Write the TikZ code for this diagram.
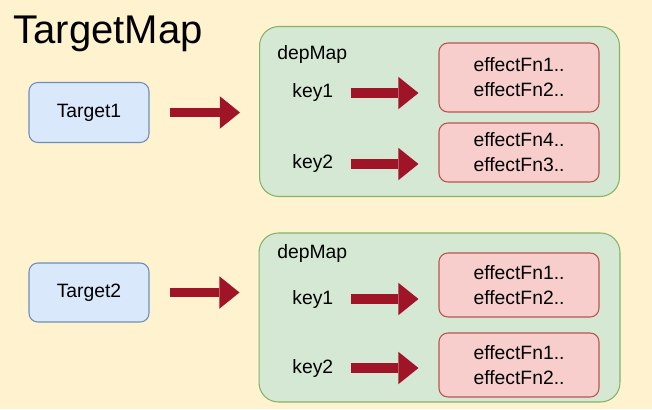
\documentclass[tikz,border=0pt]{standalone}
\usepackage{fontspec}
\setmainfont{Liberation Sans}
\usepackage{tikz}
\usetikzlibrary{arrows.meta,positioning,calc}
\definecolor{bgY}{RGB}{255,242,206}
\definecolor{tgtB}{RGB}{218,232,252}
\definecolor{tgtBd}{RGB}{108,142,191}
\definecolor{depG}{RGB}{213,232,212}
\definecolor{depGd}{RGB}{130,179,102}
\definecolor{fnR}{RGB}{248,206,204}
\definecolor{fnRd}{RGB}{184,84,80}
\definecolor{arrR}{RGB}{160,20,40}

\begin{document}
\begin{tikzpicture}[
  x=0.02cm, y=-0.02cm,
  txt/.style={font=\fontsize{11}{14.2}\selectfont},
  target/.style={draw=tgtBd, fill=tgtB, rounded corners=5pt, line width=0.6pt, txt, minimum width=2.4cm, minimum height=1.2cm},
  depbox/.style={draw=depGd, fill=depG, rounded corners=11pt, line width=0.6pt, minimum width=7.2cm, minimum height=3.4cm},
  fnbox/.style={draw=fnRd, fill=fnR, rounded corners=5pt, line width=0.6pt, txt, align=center, minimum width=3.2cm},
  keylbl/.style={txt, inner sep=0pt, anchor=west},
  flow/.style={draw=arrR, line width=5.3pt, -{Triangle[length=11.5pt,width=18.5pt,line width=0pt]}}
]

\fill[bgY] (0,0) rectangle (652,409);
\useasboundingbox (0,0) rectangle (652,409);

\node[font=\fontsize{22.8}{27}\selectfont, inner sep=0pt, anchor=base west] (title) at (13,43) {TargetMap};

% first target
\node[target] (t1) at (89,112.5) {Target1};
\node[depbox] (dm1) at (439.5,111.5) {};
\node[txt, inner sep=0pt, anchor=base west] (dl1) at (277,59) {depMap};
\node[keylbl] (k11) at (292,93) {key1};
\node[keylbl] (k12) at (292,164) {key2};
\node[fnbox, minimum height=1.38cm] (f11) at (519,77.5) {effectFn1..\\effectFn2..};
\node[fnbox, minimum height=1.18cm] (f12) at (519,152.5) {effectFn4..\\effectFn3..};

% second target
\node[target, minimum height=1.18cm] (t2) at (89,292.5) {Target2};
\node[depbox, minimum width=7.22cm, minimum height=3.38cm] (dm2) at (439.5,317.5) {};
\node[txt, inner sep=0pt, anchor=base west] (dl2) at (277,258) {depMap};
\node[keylbl] (k21) at (292,299) {key1};
\node[keylbl] (k22) at (292,368) {key2};
\node[fnbox, minimum height=1.28cm] (f21) at (519,285) {effectFn1..\\effectFn2..};
\node[fnbox, minimum height=1.28cm] (f22) at (519,365) {effectFn1..\\effectFn2..};

% arrows
\draw[flow, shorten <=0.4cm, shorten >=0.38cm] (t1.east) -- (t1.east -| dm1.west);
\draw[flow, shorten <=0.4cm, shorten >=0.38cm] (t2.east) -- (t2.east -| dm2.west);
\draw[flow, shorten <=0.34cm, shorten >=0.4cm] (k11.east) -- (k11.east -| f11.west);
\draw[flow, shorten <=0.34cm, shorten >=0.4cm] (k12.east) -- (k12.east -| f12.west);
\draw[flow, shorten <=0.34cm, shorten >=0.4cm] (k21.east) -- (k21.east -| f21.west);
\draw[flow, shorten <=0.34cm, shorten >=0.4cm] (k22.east) -- (k22.east -| f22.west);

\end{tikzpicture}
\end{document}
